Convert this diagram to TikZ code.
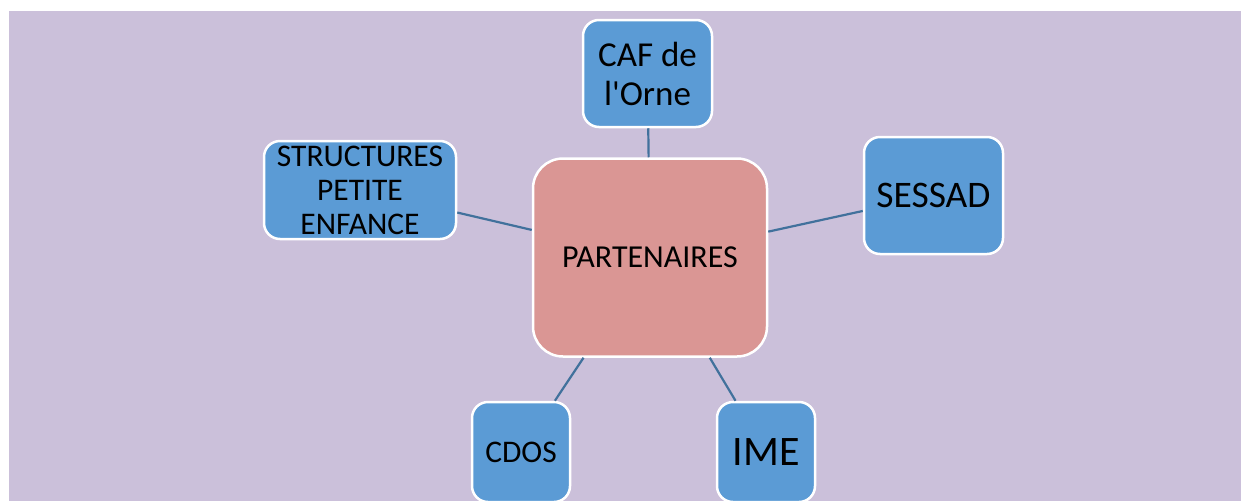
\documentclass[tikz,border=0pt]{standalone}
\usepackage{fontspec}
\setmainfont{Carlito}
\usetikzlibrary{positioning,backgrounds}
\definecolor{fond}{RGB}{203,192,218}
\definecolor{bleu}{RGB}{91,155,213}
\definecolor{rose}{RGB}{218,150,148}
\definecolor{trait}{RGB}{65,113,156}

\begin{document}
\begin{tikzpicture}[x=1pt,y=-1pt,
        boite/.style={draw=white, line width=2.5pt, fill=bleu, rounded corners=16pt,
            inner sep=0pt, align=center, text=black},
        centre/.style={boite, fill=rose, rounded corners=30pt},
        lien/.style={draw=trait, line width=2.2pt}]
        \useasboundingbox (0,0) rectangle (1241,501);
        \fill[fond] (9,11) rectangle (1241,501);
        \node[centre, minimum width=234pt, minimum height=198pt,
            font=\fontsize{32}{38}\selectfont] (part) at (650,257.5) {PARTENAIRES};
        \node[boite, minimum width=129pt, minimum height=107pt,
            font=\fontsize{35}{39}\selectfont] (caf) at (647.5,73.5) {CAF de\\l\textquotesingle Orne};
        \node[boite, minimum width=139pt, minimum height=117pt,
            font=\fontsize{37.5}{42}\selectfont] (sessad) at (933.5,195.5) {SESSAD};
        \node[boite, minimum width=192pt, minimum height=98pt,
            font=\fontsize{31.5}{34}\selectfont] (struct) at (360,190) {STRUCTURES\\PETITE\\ENFANCE};
        \node[boite, minimum width=98pt, minimum height=100pt,
            font=\fontsize{31.5}{36}\selectfont] (cdos) at (521,452) {CDOS};
        \node[boite, minimum width=98pt, minimum height=100pt,
            font=\fontsize{42}{48}\selectfont] (ime) at (766,452) {IME};
        \draw[lien] (part) -- (caf);
        \draw[lien] (part) -- (sessad);
        \draw[lien] (part) -- (struct);
        \draw[lien] (part) -- (cdos);
        \draw[lien] (part) -- (ime);
    \end{tikzpicture}
\end{document}
